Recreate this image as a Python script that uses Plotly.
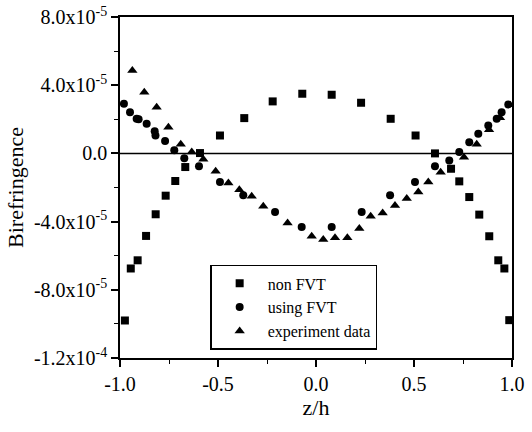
import plotly.graph_objects as go

# non FVT (squares)
sq_x = [-0.975, -0.945, -0.91, -0.867, -0.818, -0.767, -0.718, -0.667, -0.592, -0.49, -0.366,
        -0.221, -0.07, 0.08, 0.23, 0.381, 0.508, 0.607, 0.689, 0.731, 0.782, 0.833, 0.884,
        0.93, 0.961, 0.986]
sq_y = [-9.8e-5, -6.75e-5, -6.27e-5, -4.84e-5, -3.57e-5, -2.48e-5, -1.62e-5, -0.80e-5, 0.02e-5,
        1.05e-5, 2.07e-5, 3.05e-5, 3.50e-5, 3.44e-5, 2.97e-5, 2.03e-5, 1.05e-5, 0.0, -0.9e-5,
        -1.64e-5, -2.56e-5, -3.59e-5, -4.86e-5, -6.27e-5, -6.75e-5, -9.78e-5]

# using FVT (circles)
ci_x = [-0.98, -0.949, -0.915, -0.905, -0.864, -0.823, -0.819, -0.77, -0.723, -0.672, -0.597,
        -0.49, -0.371, -0.209, -0.073, 0.08, 0.233, 0.378, 0.505, 0.607, 0.68, 0.731, 0.782,
        0.828, 0.879, 0.922, 0.947, 0.981]
ci_y = [2.91e-5, 2.42e-5, 2.03e-5, 2.0e-5, 1.74e-5, 1.3e-5, 1.05e-5, 0.72e-5, 0.18e-5, -0.28e-5,
        -0.76e-5, -1.68e-5, -2.46e-5, -3.44e-5, -4.32e-5, -4.32e-5, -3.44e-5, -2.46e-5, -1.68e-5,
        -0.76e-5, -0.41e-5, 0.08e-5, 0.66e-5, 1.15e-5, 1.64e-5, 2.03e-5, 2.42e-5, 2.87e-5]

# experiment data (triangles)
tr_x = [-0.937, -0.876, -0.813, -0.753, -0.69, -0.634, -0.575, -0.512, -0.447, -0.391, -0.328,
        -0.269, -0.145, -0.022, 0.037, 0.097, 0.16, 0.221, 0.279, 0.34, 0.403, 0.463, 0.522,
        0.573, 0.636, 0.755, 0.82, 0.883, 0.939]
tr_y = [4.86e-5, 3.59e-5, 2.71e-5, 1.54e-5, 0.53e-5, 0.08e-5, -0.35e-5, -1.05e-5, -1.74e-5,
        -2.13e-5, -2.52e-5, -3.10e-5, -4.08e-5, -4.86e-5, -5.05e-5, -4.94e-5, -4.94e-5, -4.41e-5,
        -3.69e-5, -3.50e-5, -3.05e-5, -2.65e-5, -2.27e-5, -1.68e-5, -1.10e-5, -0.22e-5, 0.53e-5,
        1.39e-5, 2.09e-5]

x_ticks = [-1.0, -0.5, 0.0, 0.5, 1.0]
x_labels = ["-1.0", "-0.5", "0.0", "0.5", "1.0"]
y_ticks = [8e-5, 4e-5, 0.0, -4e-5, -8e-5, -1.2e-4]
y_labels = ["8.0x10<sup>-5</sup>", "4.0x10<sup>-5</sup>", "0.0", "-4.0x10<sup>-5</sup>",
            "-8.0x10<sup>-5</sup>", "-1.2x10<sup>-4</sup>"]

FONT = "Liberation Serif"

fig = go.Figure()
fig.add_trace(go.Scatter(x=sq_x, y=sq_y, mode="markers", name="non FVT",
                         marker=dict(symbol="square", size=8, color="black")))
fig.add_trace(go.Scatter(x=ci_x, y=ci_y, mode="markers", name="using FVT",
                         marker=dict(symbol="circle", size=8, color="black")))
fig.add_trace(go.Scatter(x=tr_x, y=tr_y, mode="markers", name="experiment data",
                         marker=dict(symbol="triangle-up", size=9, color="black")))

fig.add_hline(y=0, line=dict(color="black", width=1.5))

fig.update_layout(
    width=532, height=432,
    margin=dict(l=120, r=20, t=17, b=74),
    paper_bgcolor="white", plot_bgcolor="white",
    font=dict(family=FONT, color="black", size=20),
    legend=dict(x=0.23, y=0.273, xanchor="left", yanchor="top",
                bordercolor="black", borderwidth=1.5, bgcolor="white",
                font=dict(family=FONT, size=16, color="black"),
                itemwidth=46, tracegroupgap=0),
)
fig.update_layout(
    xaxis=dict(tickfont=dict(family=FONT, size=20, color="black")),
    yaxis=dict(tickfont=dict(family=FONT, size=20, color="black")),
)
fig.update_xaxes(range=[-1.0, 1.0], tickvals=x_ticks, ticktext=x_labels, automargin=False,
                 showline=True, linecolor="black", linewidth=1.5, mirror=True,
                 ticks="outside", ticklen=7, tickwidth=1.5, tickcolor="black",
                 minor=dict(dtick=0.25, tick0=0, ticks="outside", ticklen=4, tickwidth=1.2,
                            tickcolor="black", showgrid=False),
                 showgrid=False, zeroline=False,
                 title=dict(text="z/h", font=dict(family=FONT, size=22, color="black"), standoff=0))
fig.update_yaxes(range=[-1.2e-4, 8e-5], tickvals=y_ticks, ticktext=y_labels, automargin=False,
                 showline=True, linecolor="black", linewidth=1.5, mirror=True,
                 ticks="outside", ticklen=7, tickwidth=1.5, tickcolor="black",
                 minor=dict(dtick=2e-5, tick0=0, ticks="outside", ticklen=4, tickwidth=1.2,
                            tickcolor="black", showgrid=False),
                 showgrid=False, zeroline=False,
                 title=dict(text="Birefringence", font=dict(family=FONT, size=22, color="black"), standoff=4))

fig.write_html("out.html")
